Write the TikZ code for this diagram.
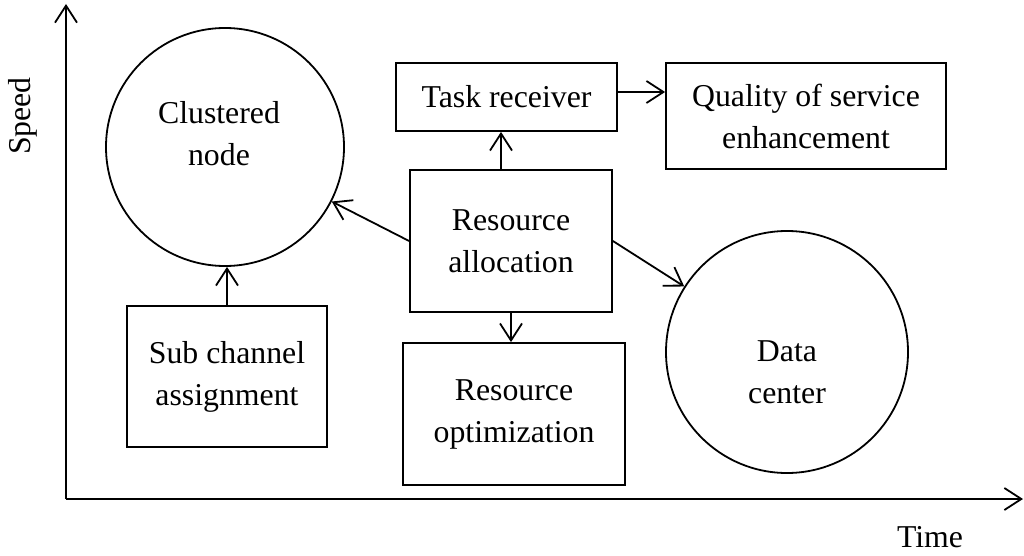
\documentclass[tikz,border=0pt]{standalone}
\usepackage{fontspec}
\setmainfont{Liberation Serif}
\usetikzlibrary{arrows.meta}

\tikzset{
  base/.style={draw=black, line width=1.8pt, align=center, inner sep=0pt,
    font=\fontsize{31.8}{42}\selectfont},
  block/.style={base, rectangle},
  roundnode/.style={base, circle},
  caption/.style={align=center, inner sep=0pt, font=\fontsize{31.8}{42}\selectfont},
  link/.style={line width=1.8pt, -{Straight Barb[length=17pt,width=22pt,line width=1.8pt]}},
  axislabel/.style={inner sep=0pt, font=\fontsize{31.8}{42}\selectfont}
}

\begin{document}
\begin{tikzpicture}[x=1pt, y=-1pt]
  \useasboundingbox (0,0) rectangle (1024,556);

  % axes
  \coordinate (origin) at (66,499);
  \coordinate (ytip) at (66,4);
  \coordinate (xtip) at (1023,499);
  \draw[link] (origin) -- (ytip);
  \draw[link] (origin) -- (xtip);
  \node[axislabel, rotate=90] (speed) at (23,116) {Speed};
  \node[axislabel] (time) at (930,537) {Time};

  % blocks
  \node[block, minimum width=221pt, minimum height=68pt] (tr) at (506.5,97) {Task receiver};
  \node[block, minimum width=280pt, minimum height=106pt] (qs) at (806,116) {Quality of service\\enhancement};
  \node[block, minimum width=202pt, minimum height=142pt] (ra) at (511,241) {Resource\\allocation};
  \node[block, minimum width=222pt, minimum height=142pt] (ro) at (514,414) {Resource\\optimization};
  \node[block, minimum width=200pt, minimum height=141pt] (sc) at (227,376.5) {Sub channel\\assignment};

  % circles, with their captions set a little off centre
  \node[roundnode, minimum size=238pt] (cn) at (225,147) {};
  \node[caption] (cntext) at (219,134) {Clustered\\node};
  \node[roundnode, minimum size=242pt] (dc) at (787,352) {};
  \node[caption] (dctext) at (787,372) {Data\\center};

  % connectors
  \draw[link] (sc.north) -- (sc.north |- cn.south);
  \draw[link] (ra.west) -- (cn);
  \draw[link] (ra.east) -- (dc);
  \draw[link] ([xshift=-10pt]ra.north) -- ([xshift=-10pt]ra.north |- tr.south);
  \draw[link] (ra.south) -- (ra.south |- ro.north);
  \draw[link] ([yshift=5pt]tr.east) -- ([yshift=5pt]tr.east -| qs.west);
\end{tikzpicture}
\end{document}
